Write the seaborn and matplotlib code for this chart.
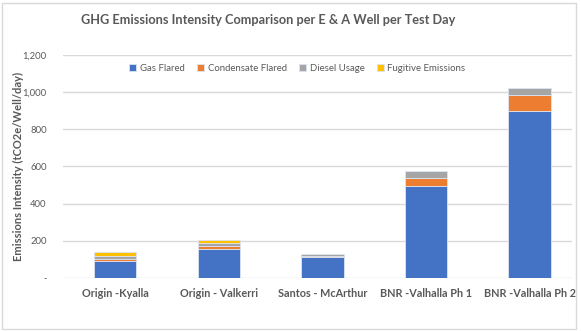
import numpy as np
import pandas as pd
import matplotlib
matplotlib.use("Agg")
import matplotlib.pyplot as plt
import seaborn as sns
from matplotlib.patches import Rectangle

# Well test data (tCO2e/Well/day)
wells = ["Origin -Kyalla", "Origin - Valkerri", "Santos - McArthur",
         "BNR -Valhalla Ph 1", "BNR -Valhalla Ph 2"]
gas_flared = [93, 155, 115, 497, 900]
condensate_flared = [10, 20, 2, 42, 82]
diesel_usage = [18, 15, 10, 35, 38]
fugitive_emissions = [17, 13, 3, 4, 4]

series_names = ["Gas Flared", "Condensate Flared", "Diesel Usage", "Fugitive Emissions"]
series_values = [gas_flared, condensate_flared, diesel_usage, fugitive_emissions]
series_colors = ["#4472C4", "#ED7D31", "#A5A5A5", "#FFC000"]

y_ticks = [0, 200, 400, 600, 800, 1000, 1200]
y_tick_labels = ["-", "200", "400", "600", "800", "1,000", "1,200"]

sns.set_style("white")
plt.rcParams["font.family"] = ["Lato", "DejaVu Sans"]

fig = plt.figure(figsize=(5.82, 3.31), dpi=100)
ax = fig.add_axes([0.109, 0.160, 0.874, 0.674])

text_color = "#595959"
bottom = np.zeros(len(wells))
for name, vals, col in zip(series_names, series_values, series_colors):
    df = pd.DataFrame({"well": wells, "value": vals})
    sns.barplot(data=df, x="well", y="value", color=col, width=0.41,
                bottom=bottom, label=name, ax=ax, saturation=1,
                edgecolor="#DCE4F2", linewidth=0.6)
    bottom = bottom + np.array(vals)

ax.set_ylim(0, 1200)
ax.set_xlim(-0.5, 4.41)
ax.set_yticks(y_ticks)
ax.set_yticklabels(y_tick_labels, fontsize=6.8, color=text_color)
ax.yaxis.grid(True, color="#D9D9D9", linewidth=1.0)
ax.set_axisbelow(True)
for s in ax.spines.values():
    s.set_visible(False)
ax.tick_params(axis="y", length=0, pad=12)
ax.tick_params(axis="x", length=0, pad=7)
for lbl in ax.get_xticklabels():
    lbl.set_fontsize(7.8)
    lbl.set_fontweight("bold")
    lbl.set_color(text_color)
ax.set_xlabel("")
ax.set_ylabel("")

fig.text(0.032, 0.497, "Emissions Intensity (tCO2e/Well/day)", rotation=90,
         ha="center", va="center", fontsize=8, fontweight="bold", color=text_color)

leg = ax.legend(loc="upper center", bbox_to_anchor=(0.46, 1.0), ncol=4,
                frameon=False, fontsize=6.9, handlelength=0.7, handleheight=0.7,
                handletextpad=0.4, columnspacing=1.3, labelcolor=text_color)

fig.text(0.46, 0.94, "GHG Emissions Intensity Comparison per E & A Well per Test Day",
         ha="center", va="center", fontsize=9.2, fontweight="bold", color=text_color)

fig.patches.append(Rectangle((0.004, 0.006), 0.985, 0.985, transform=fig.transFigure,
                             fill=False, edgecolor="#D9D9D9", linewidth=1.0))

fig.savefig("out.png", dpi=100)
